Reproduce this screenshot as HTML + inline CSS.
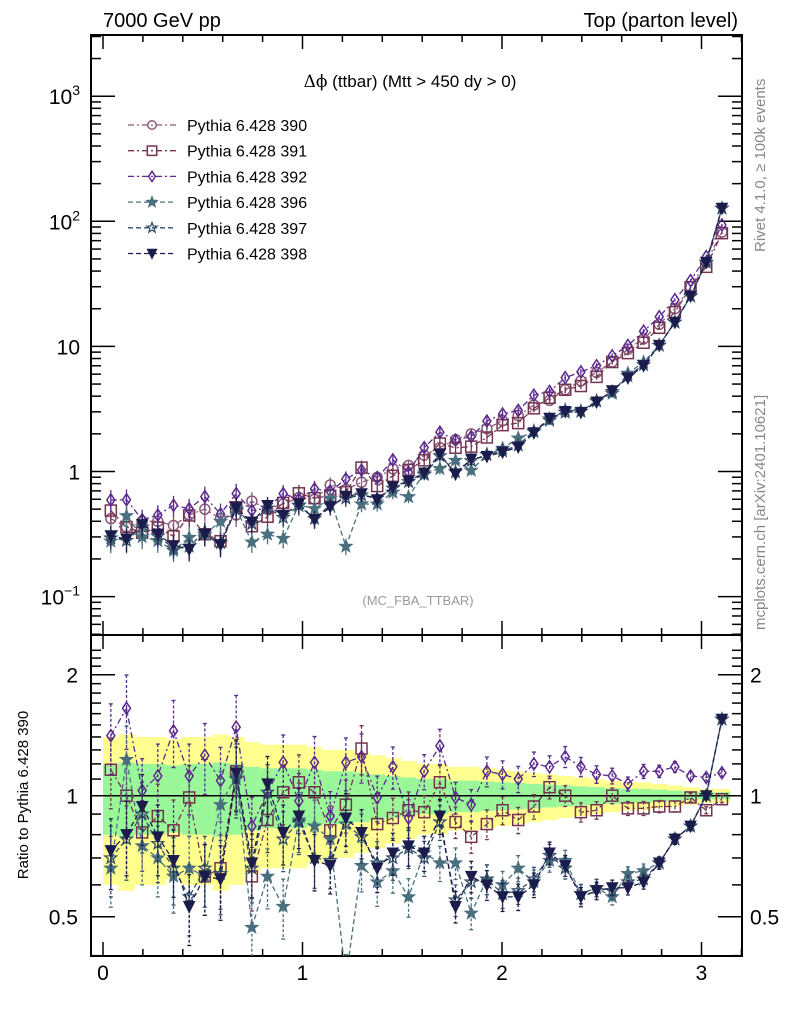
<!DOCTYPE html>
<html><head><meta charset="utf-8"><style>
html,body{margin:0;padding:0;background:#fff;}
svg{display:block;font-family:"Liberation Sans",sans-serif;}
</style></head><body>
<svg id="chart" width="786" height="1024" viewBox="0 0 786 1024" xmlns="http://www.w3.org/2000/svg">
<g id="bands"></g>
<g id="axes"></g>
<g id="series"></g>
<text x="103" y="27" font-size="20">7000 GeV pp</text>
<text x="738" y="27" font-size="20" text-anchor="end">Top (parton level)</text>
<text x="410" y="87" font-size="17" text-anchor="middle"><tspan font-family="DejaVu Serif, serif">Δϕ</tspan> (ttbar) (Mtt &gt; 450 dy &gt; 0)</text>
<text x="418" y="605" font-size="13" fill="#999" text-anchor="middle">(MC_FBA_TTBAR)</text>
<text transform="translate(765,252) rotate(-90)" font-size="15" fill="#888">Rivet 4.1.0, ≥ 100k events</text>
<text transform="translate(765,630) rotate(-90)" font-size="15" fill="#888">mcplots.cern.ch [arXiv:2401.10621]</text>
<text transform="translate(28,795) rotate(-90)" font-size="15" text-anchor="middle">Ratio to Pythia 6.428 390</text>
<g id="legend"></g>
</svg>
<script>
const nBins = 40;
const xMax = Math.PI;
const base390 = [0.42,0.36,0.40,0.40,0.37,0.45,0.50,0.42,0.45,0.58,0.50,0.55,0.62,0.60,0.78,0.72,0.82,0.90,1.05,1.12,1.35,1.55,1.8,2.0,2.2,2.55,2.8,3.4,3.7,4.5,5.3,6.2,7.5,9.5,11.5,15,20,30,47,82];
const ratio391 = [1.16,1.0,0.81,0.89,0.82,0.99,0.63,0.66,1.15,0.63,0.87,1.02,1.08,1.02,0.82,0.95,1.31,0.85,0.88,0.92,0.91,1.08,0.86,0.79,0.85,0.92,0.87,0.94,1.05,1.0,0.91,0.92,1.0,0.93,0.93,0.94,0.94,0.99,0.92,0.98];
const ratio392 = [1.41,1.65,1.03,1.12,1.45,1.12,1.26,1.09,1.48,0.84,1.02,1.21,0.97,1.21,0.89,1.21,1.25,0.99,1.18,0.88,1.15,1.33,0.99,0.95,1.15,1.13,1.10,1.2,1.18,1.25,1.18,1.13,1.12,1.07,1.15,1.15,1.18,1.12,1.11,1.14];
const ratio396 = [0.66,1.23,0.75,0.70,0.63,0.66,0.63,0.95,1.12,0.47,0.63,0.53,0.87,0.84,0.78,0.35,0.67,0.61,0.65,0.56,0.72,0.68,0.68,0.51,0.62,0.60,0.66,0.61,0.69,0.69,0.57,0.59,0.56,0.64,0.65,0.68,0.78,0.84,1.0,1.55];
const ratio397 = [0.70,0.78,0.90,0.76,0.66,0.56,0.66,0.64,1.10,0.66,1.02,0.78,0.86,0.70,0.69,0.85,0.79,0.68,0.70,0.74,0.70,0.86,0.55,0.61,0.62,0.57,0.58,0.62,0.71,0.66,0.57,0.59,0.58,0.61,0.62,0.68,0.78,0.84,1.0,1.55];
const ratio398 = [0.73,0.80,0.94,0.79,0.69,0.53,0.63,0.62,1.14,0.68,1.07,0.81,0.89,0.69,0.67,0.88,0.81,0.66,0.72,0.75,0.72,0.89,0.53,0.63,0.60,0.56,0.56,0.60,0.72,0.67,0.56,0.58,0.59,0.59,0.61,0.68,0.78,0.84,1.0,1.55];
const relErr = [0.2,0.21,0.2,0.2,0.19,0.2,0.2,0.21,0.2,0.18,0.17,0.17,0.17,0.16,0.15,0.15,0.14,0.13,0.12,0.11,0.10,0.10,0.09,0.09,0.085,0.08,0.075,0.07,0.065,0.06,0.055,0.05,0.045,0.04,0.04,0.035,0.03,0.025,0.02,0.02];
const xTicks = [0,1,2,3];
const mainTicks = [{v:0.1,l:'10',e:'−1'},{v:1,l:'1',e:''},{v:10,l:'10',e:''},{v:100,l:'10',e:'2'},{v:1000,l:'10',e:'3'}];
const ratioTicks = [0.5,1,2];

const NS='http://www.w3.org/2000/svg';
const L=91,R=742,T=35,MB=635,RB=956;
const X=v=>103+v*199.5;
const YM=v=>471.5-125.1*Math.log10(v);
const YR=v=>795.7-121*Math.log2(v);
function mk(tag,attrs,parent){const e=document.createElementNS(NS,tag);for(const k in attrs)e.setAttribute(k,attrs[k]);parent.appendChild(e);return e;}
const axes=document.getElementById('axes');
const bands=document.getElementById('bands');
const series=document.getElementById('series');
const legend=document.getElementById('legend');
const bw=xMax/nBins;
const cx=i=>(i+0.5)*bw;

for(let i=0;i<nBins;i++){
  const x0=X(i*bw),x1=X((i+1)*bw),e=relErr[i];
  const y=mk('rect',{x:x0,y:YR(1+2*e),width:x1-x0+0.5,height:YR(Math.max(1-2*e,0.3))-YR(1+2*e),fill:'#ffff90'},bands);
  
  
  const g=mk('rect',{x:x0,y:YR(1+e),width:x1-x0+0.5,height:YR(1-e)-YR(1+e),fill:'#99f799'},bands);
  
  
}
mk('line',{x1:L,x2:R,y1:YR(1),y2:YR(1),stroke:'#000','stroke-width':1.5},bands);

mk('rect',{x:L,y:T,width:R-L,height:MB-T,fill:'none',stroke:'#000','stroke-width':2},axes);
mk('rect',{x:L,y:MB,width:R-L,height:RB-MB,fill:'none',stroke:'#000','stroke-width':2},axes);
for(let v=0;v<=3.2001;v+=0.2){
  const major=Math.abs(v-Math.round(v))<1e-6;const len=major?14:7;const x=X(v);
  [[T,1],[MB,-1],[MB,1],[RB,-1]].forEach(([y0,d])=>mk('line',{x1:x,x2:x,y1:y0,y2:y0+d*len,stroke:'#000','stroke-width':1.5},axes));
}
xTicks.forEach(v=>{const t=mk('text',{x:X(v),y:980,'font-size':21,'text-anchor':'middle'},axes);t.textContent=v;
  
  });
for(let d=-2;d<=3;d++){for(let m=1;m<10;m++){const v=m*Math.pow(10,d);const y=YM(v);if(y<T||y>MB)continue;
  const len=m==1?24:10;
  mk('line',{x1:L,x2:L+len,y1:y,y2:y,stroke:'#000','stroke-width':1.5},axes);
  mk('line',{x1:R,x2:R-len,y1:y,y2:y,stroke:'#000','stroke-width':1.5},axes);}}
mainTicks.forEach(t=>{const y=YM(t.v);const el=mk('text',{x:80,y:y+8,'font-size':21,'text-anchor':'end'},axes);
  
  
  if(t.e){el.textContent=t.l;const s=mk('tspan',{'font-size':14,dy:-9},el);s.textContent=t.e;}else el.textContent=t.l;});
for(let v=0.4;v<=2.4;v+=0.1){const y=YR(v);if(y<MB||y>RB)continue;const maj=[0.5,1,2].some(m=>Math.abs(m-v)<1e-6);const len=maj?24:10;
  mk('line',{x1:L,x2:L+len,y1:y,y2:y,stroke:'#000','stroke-width':1.5},axes);
  mk('line',{x1:R,x2:R-len,y1:y,y2:y,stroke:'#000','stroke-width':1.5},axes);}
ratioTicks.forEach(v=>{const y=YR(v);
  const a=mk('text',{x:78,y:y+8,'font-size':21,'text-anchor':'end'},axes);a.textContent=v;
  
  
  const b=mk('text',{x:750,y:y+8,'font-size':21},axes);b.textContent=v;
  
  });

function marker(type,x,y,col,g,s){
  s=s||1;
  if(type=='circle')return mk('circle',{cx:x,cy:y,r:5*s,fill:'none',stroke:col,'stroke-width':1.5},g);
  if(type=='square')return mk('rect',{x:x-5.5*s,y:y-5.5*s,width:11*s,height:11*s,fill:'none',stroke:col,'stroke-width':1.5},g);
  if(type=='diamond')return mk('polygon',{points:`${x},${y-6*s} ${x+4*s},${y} ${x},${y+6*s} ${x-4*s},${y}`,fill:'none',stroke:col,'stroke-width':1.5},g);
  if(type=='star'||type=='ostar'){let p=[];for(let k=0;k<10;k++){const r=(k%2?2.6:6.2)*s;const a=-Math.PI/2+k*Math.PI/5;p.push((x+r*Math.cos(a)).toFixed(1)+','+(y+r*Math.sin(a)).toFixed(1));}
    return mk('polygon',{points:p.join(' '),fill:type=='star'?col:'none',stroke:col,'stroke-width':1.3},g);}
  if(type=='tri')return mk('polygon',{points:`${x-5.5*s},${y-5*s} ${x+5.5*s},${y-5*s} ${x},${y+6*s}`,fill:col,stroke:col},g);
}
const defs=[
 {id:'390',ratio:null,col:'#8a5a7a',m:'circle',dash:'6,3,2,3'},
 {id:'391',ratio:ratio391,col:'#74344f',m:'square',dash:'6,3,2,3'},
 {id:'392',ratio:ratio392,col:'#5b2a8c',m:'diamond',dash:'6,3,2,3'},
 {id:'396',ratio:ratio396,col:'#4a7080',m:'star',dash:'5,3'},
 {id:'397',ratio:ratio397,col:'#34506a',m:'ostar',dash:'5,3'},
 {id:'398',ratio:ratio398,col:'#1c1c4c',m:'tri',dash:'5,3'}
];
defs.forEach((d,si)=>{
  const g=mk('g',{},series);
  
  
  const vals=base390.map((b,i)=>d.ratio?b*d.ratio[i]:b);
  const err=relErr.map(e=>e*1.0);
  let pts=vals.map((v,i)=>X(cx(i)).toFixed(1)+','+YM(v).toFixed(1)).join(' ');
  mk('polyline',{points:pts,fill:'none',stroke:d.col,'stroke-width':1.3,'stroke-dasharray':d.dash},g);
  vals.forEach((v,i)=>{const x=X(cx(i));
    mk('line',{x1:x,x2:x,y1:YM(v*(1+err[i])),y2:YM(v*(1-err[i])),stroke:d.col,'stroke-width':1.3},g);
    marker(d.m,x,YM(v),d.col,g);});
  if(d.ratio){
    const rg=mk('g',{},series);
    
    
    const cp=mk('clipPath',{id:'rc'+d.id},rg);mk('rect',{x:L,y:MB,width:R-L,height:RB-MB},cp);
    const ig=mk('g',{'clip-path':'url(#rc'+d.id+')'},rg);
    mk('polyline',{points:d.ratio.map((r,i)=>X(cx(i)).toFixed(1)+','+YR(r).toFixed(1)).join(' '),fill:'none',stroke:d.col,'stroke-width':1.3,'stroke-dasharray':d.dash},ig);
    d.ratio.forEach((r,i)=>{const x=X(cx(i));const e=err[i]*1.0;
      mk('line',{x1:x,x2:x,y1:YR(r*(1+e)),y2:YR(r*(1-e)),stroke:d.col,'stroke-width':1.3,'stroke-dasharray':'3,2'},ig);
      mk('line',{x1:x-2,x2:x+2,y1:YR(r*(1+e)),y2:YR(r*(1+e)),stroke:d.col,'stroke-width':1.3},ig);
      mk('line',{x1:x-2,x2:x+2,y1:YR(r*(1-e)),y2:YR(r*(1-e)),stroke:d.col,'stroke-width':1.3},ig);
      marker(d.m,x,YR(r),d.col,ig);});
  }
  const ly=125+si*25.7;
  const lg=mk('g',{},legend);
  
  
  mk('line',{x1:128,x2:176,y1:ly,y2:ly,stroke:d.col,'stroke-width':1.3,'stroke-dasharray':d.dash},lg);
  marker(d.m,152,ly,d.col,lg,0.85);
  const t=mk('text',{x:187,y:ly+6,'font-size':16},lg);t.textContent='Pythia 6.428 '+d.id;
});
</script>
</body></html>
